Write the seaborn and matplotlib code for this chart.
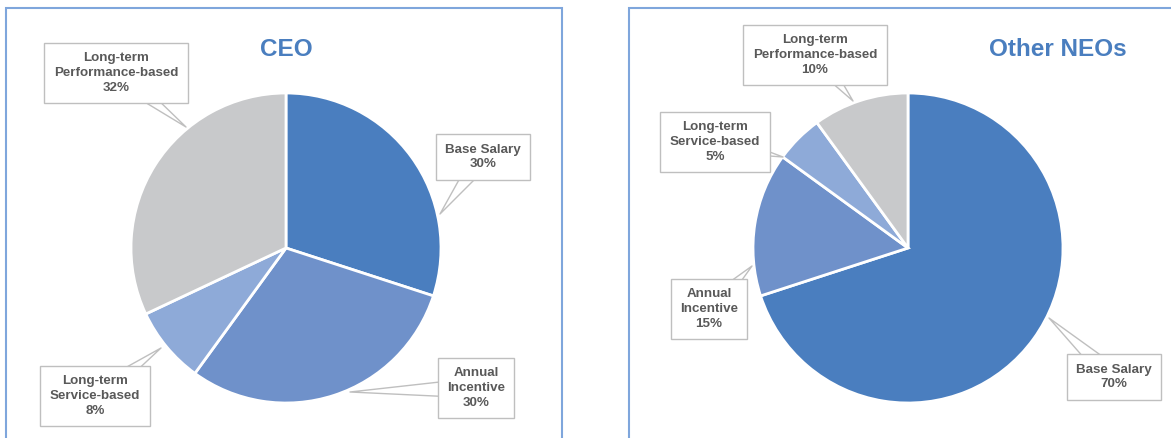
import matplotlib
matplotlib.use("Agg")
import matplotlib.pyplot as plt
from matplotlib.patches import Rectangle
import seaborn as sns

# ── Data ──────────────────────────────────────────────────────────────────────
categories = ["Base Salary", "Annual Incentive",
              "Long-term Service-based", "Long-term Performance-based"]
label_names = ["Base Salary", "Annual\nIncentive",
               "Long-term\nService-based", "Long-term\nPerformance-based"]
ceo_pct = [30, 30, 8, 32]
neo_pct = [70, 15, 5, 10]
titles = ["CEO", "Other NEOs"]

# ── Style ─────────────────────────────────────────────────────────────────────
sns.set_theme(style="white")
plt.rcParams["font.family"] = ["Liberation Sans", "DejaVu Sans"]
colors = sns.color_palette(["#4a7ebf", "#6f91ca", "#8eaad8", "#c8c9cb"])
TEXT_C = "#595959"
TITLE_C = "#4a7ebf"
BOX_C = "#bfbfbf"
FRAME_C = "#7fa6dc"

W, H = 1171, 438

# layout in image pixels (y measured from top)
PANELS = [
    dict(frame=(6, 562), center=(286, 248), title=(286, 50),
         labels=[(483, 157), (476, 388), (95, 396), (116, 73)],
         tips=[(440, 214), (350, 392), (161, 348), (186, 127)]),
    dict(frame=(629, 1180), center=(908, 248), title=(1058, 50),
         labels=[(1114, 377), (709, 309), (715, 142), (815, 55)],
         tips=[(1049, 318), (752, 266), (783, 157), (853, 101)]),
]
RADIUS = 155


def up(pt):
    return (pt[0], H - pt[1])


fig = plt.figure(figsize=(W / 100, H / 100), dpi=100)
ax = fig.add_axes([0, 0, 1, 1])

for values, title, lay in zip([ceo_pct, neo_pct], titles, PANELS):
    x0, x1 = lay["frame"]
    ax.add_patch(Rectangle((x0, -10), x1 - x0, H - 8 + 10, fill=False,
                           edgecolor=FRAME_C, linewidth=1.5, clip_on=False))

    ax.pie(values, colors=colors, startangle=90, counterclock=False,
           center=up(lay["center"]), radius=RADIUS,
           wedgeprops=dict(edgecolor="white", linewidth=2))

    ax.text(*up(lay["title"]), title, ha="center", va="center",
            fontsize=17.5, fontweight="bold", color=TITLE_C)

    for name, v, lab, tip in zip(label_names, values, lay["labels"], lay["tips"]):
        ax.annotate(f"{name}\n{v}%", xy=up(tip), xytext=up(lab),
                    ha="center", va="center", fontsize=9.6, fontweight="bold",
                    color=TEXT_C, linespacing=1.32,
                    bbox=dict(boxstyle="square,pad=0.7", fc="white",
                              ec=BOX_C, lw=1),
                    arrowprops=dict(arrowstyle="wedge,tail_width=1.5",
                                    fc="white", ec=BOX_C, lw=1,
                                    patchA=None, shrinkA=0, shrinkB=0))

ax.set_xlim(0, W)
ax.set_ylim(0, H)
ax.set_aspect("equal")
ax.axis("off")

fig.savefig("out.png", dpi=100)
